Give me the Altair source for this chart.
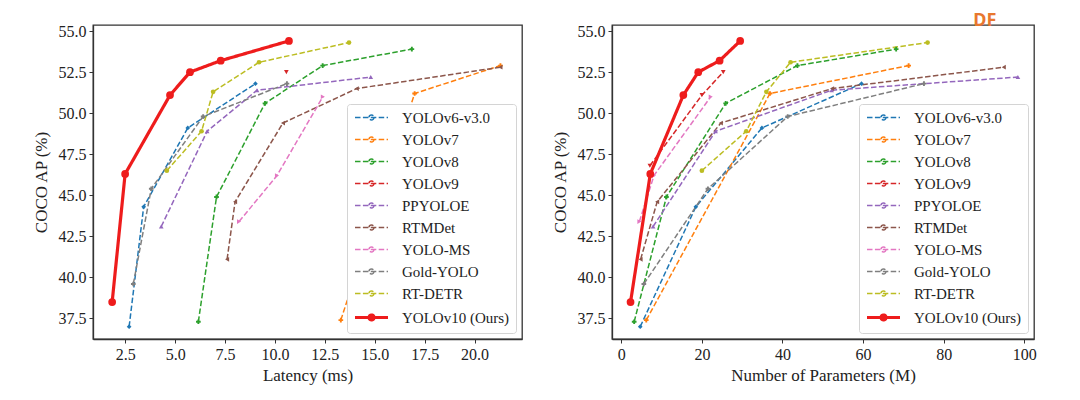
import altair as alt
import pandas as pd

models = ["YOLOv6-v3.0", "YOLOv7", "YOLOv8", "YOLOv9", "PPYOLOE", "RTMDet",
          "YOLO-MS", "Gold-YOLO", "RT-DETR", "YOLOv10 (Ours)"]
colors = ["#1f77b4", "#ff7f0e", "#2ca02c", "#d62728", "#9467bd", "#8c564b",
          "#e377c2", "#7f7f7f", "#bcbd22", "#ee1c1c"]
shapes = ["diamond", "cross", "cross", "triangle-down", "triangle-up", "triangle-left",
          "triangle-right", "cross", "circle", "circle"]
marker_sizes = [22] * 9 + [60]
dashes = [[5.5, 2.4]] * 9 + [[1, 0]]
widths = [1.5] * 9 + [3.2]

# Latency (ms) panel
lat_yolov6 = [2.69, 3.42, 5.63, 9.02]
ap_lat_yolov6 = [37.0, 44.3, 49.1, 51.8]
lat_yolov7 = [13.3, 17.0, 21.3]
ap_lat_yolov7 = [37.4, 51.2, 52.9]
lat_yolov8 = [6.16, 7.07, 9.50, 12.39, 16.86]
ap_lat_yolov8 = [37.3, 44.9, 50.6, 52.9, 53.9]
lat_yolov9 = [10.57]
ap_lat_yolov9 = [52.5]
lat_ppyoloe = [4.3, 6.6, 9.1, 14.8]
ap_lat_ppyoloe = [43.1, 48.9, 51.4, 52.2]
lat_rtmdet = [7.6, 8.0, 10.4, 14.1, 21.3]
ap_lat_rtmdet = [41.1, 44.6, 49.4, 51.5, 52.8]
lat_yoloms = [8.2, 10.1, 12.4]
ap_lat_yoloms = [43.4, 46.2, 51.0]
lat_gold = [2.9, 3.8, 6.4, 10.6]
ap_lat_gold = [39.6, 45.4, 49.8, 51.8]
lat_rtdetr = [4.58, 6.32, 6.90, 9.20, 13.71]
ap_lat_rtdetr = [46.5, 48.9, 51.3, 53.1, 54.3]
lat_yolov10 = [1.84, 2.49, 4.74, 5.74, 7.28, 10.70]
ap_lat_yolov10 = [38.5, 46.3, 51.1, 52.5, 53.2, 54.4]

# Number of parameters (M) panel
par_yolov6 = [4.7, 18.5, 34.9, 59.6]
ap_par_yolov6 = [37.0, 44.3, 49.1, 51.8]
par_yolov7 = [6.2, 36.9, 71.3]
ap_par_yolov7 = [37.4, 51.2, 52.9]
par_yolov8 = [3.2, 11.2, 25.9, 43.7, 68.2]
ap_par_yolov8 = [37.3, 44.9, 50.6, 52.9, 53.9]
par_yolov9 = [7.1, 20.0, 25.3]
ap_par_yolov9 = [46.8, 51.1, 52.5]
par_ppyoloe = [7.9, 23.4, 52.2, 98.4]
ap_par_ppyoloe = [43.1, 48.9, 51.4, 52.2]
par_rtmdet = [4.8, 8.9, 24.7, 52.3, 94.9]
ap_par_rtmdet = [41.1, 44.6, 49.4, 51.5, 52.8]
par_yoloms = [4.5, 8.1, 22.2]
ap_par_yoloms = [43.4, 46.2, 51.0]
par_gold = [5.6, 21.5, 41.3, 75.1]
ap_par_gold = [39.6, 45.4, 49.8, 51.8]
par_rtdetr = [20.0, 31.0, 36.0, 42.0, 76.0]
ap_par_rtdetr = [46.5, 48.9, 51.3, 53.1, 54.3]
par_yolov10 = [2.3, 7.2, 15.4, 19.1, 24.4, 29.5]
ap_par_yolov10 = [38.5, 46.3, 51.1, 52.5, 53.2, 54.4]

y_ticks = [37.5, 40.0, 42.5, 45.0, 47.5, 50.0, 52.5, 55.0]
lat_ticks = [2.5, 5.0, 7.5, 10.0, 12.5, 15.0, 17.5, 20.0]
par_ticks = [0, 20, 40, 60, 80, 100]

lat_series = [lat_yolov6, lat_yolov7, lat_yolov8, lat_yolov9, lat_ppyoloe, lat_rtmdet,
              lat_yoloms, lat_gold, lat_rtdetr, lat_yolov10]
ap_lat_series = [ap_lat_yolov6, ap_lat_yolov7, ap_lat_yolov8, ap_lat_yolov9, ap_lat_ppyoloe,
                 ap_lat_rtmdet, ap_lat_yoloms, ap_lat_gold, ap_lat_rtdetr, ap_lat_yolov10]
par_series = [par_yolov6, par_yolov7, par_yolov8, par_yolov9, par_ppyoloe, par_rtmdet,
              par_yoloms, par_gold, par_rtdetr, par_yolov10]
ap_par_series = [ap_par_yolov6, ap_par_yolov7, ap_par_yolov8, ap_par_yolov9, ap_par_ppyoloe,
                 ap_par_rtmdet, ap_par_yoloms, ap_par_gold, ap_par_rtdetr, ap_par_yolov10]


def build_df(xs_list, ys_list):
    rows = []
    for m, xs, ys in zip(models, xs_list, ys_list):
        for i, (x, y) in enumerate(zip(xs, ys)):
            rows.append({"model": m, "x": x, "ap": y, "i": i})
    return pd.DataFrame(rows)


df_lat = build_df(lat_series, ap_lat_series)
df_par = build_df(par_series, ap_par_series)

FONT = "Liberation Serif, Times New Roman, serif"
# legend glyph: a line with a small marker in its middle
LEGEND_GLYPH = "M-1,0L5,0M2.45,0A0.45,0.45 0 1,1 1.55,0A0.45,0.45 0 1,1 2.45,0Z"


def leg():
    return alt.Legend(title=None, orient="bottom-right", symbolType=LEGEND_GLYPH)


def panel(df, xtitle, xdomain, xticks, xfmt, w, title=None):
    x = alt.X("x:Q", title=xtitle, scale=alt.Scale(domain=xdomain, nice=False, zero=False),
              axis=alt.Axis(values=xticks, format=xfmt))
    y = alt.Y("ap:Q", title="COCO AP (%)",
              scale=alt.Scale(domain=[36.25, 55.37], nice=False, zero=False),
              axis=alt.Axis(values=y_ticks, format=".1f"))
    base = alt.Chart(df)
    lines = base.mark_line(clip=True).encode(
        x=x, y=y,
        color=alt.Color("model:N", scale=alt.Scale(domain=models, range=colors), legend=leg()),
        strokeDash=alt.StrokeDash("model:N", scale=alt.Scale(domain=models, range=dashes),
                                  legend=leg()),
        strokeWidth=alt.StrokeWidth("model:N",
                                    scale=alt.Scale(type="ordinal", domain=models, range=widths),
                                    legend=leg()),
        order="i:Q",
    )
    layers = [lines]
    for m, c, s, sz in zip(models, colors, shapes, marker_sizes):
        layers.append(
            base.transform_filter(alt.datum.model == m)
            .mark_point(filled=True, opacity=1, shape=s, size=sz, color=c)
            .encode(x=x, y=y)
        )
    props = dict(width=w, height=314)
    if title is not None:
        props["title"] = title
    return alt.layer(*layers).properties(**props)


left = panel(df_lat, "Latency (ms)", [0.88, 22.38], lat_ticks, ".1f", 429)
right = panel(df_par, "Number of Parameters (M)", [-2.3, 102.4], par_ticks, "d", 422,
              title=alt.TitleParams("DF", anchor="end", dx=-40, dy=25, offset=0,
                                    baseline="bottom", color="#e8772e", font="Noto Sans",
                                    fontSize=18, fontWeight="bold"))

chart = alt.hconcat(left, right, spacing=27).resolve_scale(
    color="independent", strokeDash="independent", strokeWidth="independent"
).resolve_legend(
    color="independent", strokeDash="independent", strokeWidth="independent"
).properties(
    padding={"left": 31, "top": 11, "right": 5, "bottom": 5},
    background="white",
).configure(
    font=FONT
).configure_view(
    stroke="#333333", strokeWidth=1.3
).configure_axis(
    grid=False, domainColor="#333333", domainWidth=1.3, tickColor="#333333", tickSize=4,
    labelFont=FONT, labelFontSize=16, labelColor="#222222", labelPadding=3,
    titleFont=FONT, titleFontSize=17, titleFontWeight="normal", titleColor="#222222",
).configure_axisY(titlePadding=8).configure_axisX(titlePadding=5).configure_legend(
    labelFont=FONT, labelFontSize=15, labelColor="#222222", symbolType=LEGEND_GLYPH,
    symbolSize=121, labelOffset=34, padding=6, offset=6, rowPadding=6,
    fillColor="white", strokeColor="#d4d4d4", cornerRadius=3,
)

chart.save("out.html", embed_options={"renderer": "svg", "actions": False})
